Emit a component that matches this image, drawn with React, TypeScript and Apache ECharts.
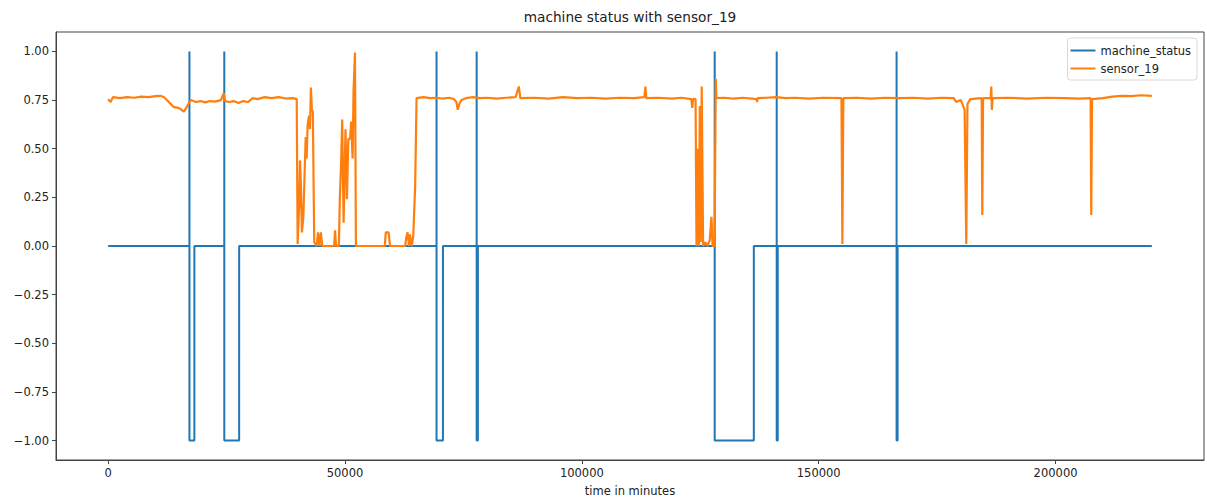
import React, { useEffect, useRef } from "react";
import * as echarts from "echarts";

const chartTitle = "machine status with sensor_19";
const xAxisName = "time in minutes";
const seriesNames = ["machine_status", "sensor_19"];

const xTicks = [0, 50000, 100000, 150000, 200000];
const yTicks = [-1, -0.75, -0.5, -0.25, 0, 0.25, 0.5, 0.75, 1];

// machine status: broken moments (value 1) and end of the following recovering (-1) period
const breakTimes = [17155, 24510, 69318, 77790, 128040, 141131, 166440];
const recoveryEnds = [18200, 27650, 70670, 78050, 136300, 141350, 166650];
const lastTime = 220320;

// sensor_19 readings (time in minutes, value)
const sensorTime = [
  0, 500, 1000, 2500, 4000, 5500, 7000, 8500, 10000, 11000, 11800, 12800, 13800, 14800, 15500, 16000, 16600,
  17155, 17500, 18500, 19500, 20500, 21500, 22500, 23800, 24400, 24700, 25500, 26500, 27500, 28500, 29500,
  30500, 31500, 33000, 34500, 36000, 37500, 39000, 39800,
  40000, 40300, 40500, 40700, 40900, 41200, 41500, 41700, 41900, 42100, 42400, 42600, 42800, 43000, 43200,
  43500, 44000, 44300, 44600, 44900, 45200, 47700, 47900, 48100, 48700, 48900, 49200, 49400, 49700, 50100,
  50400, 50700, 51050, 51300, 51600, 51800, 52100, 52300, 58400, 58600, 59200, 59500, 62700, 62900, 63200,
  63500, 63700, 64100, 64400, 64800, 65100,
  66500, 68000, 69300, 70500, 72000, 73000, 73500, 73800, 74200, 74600, 75500, 77000, 78500, 80000, 82000, 84000, 86000,
  86700, 87000, 90000, 93000, 96000, 99000, 102000, 105000, 108000, 111000, 113200, 113400, 113600, 116000,
  119000, 121000, 123100, 123300, 123500, 124000,
  124200, 124500, 124700, 124900, 125100, 125300, 125600, 126000, 126500, 127000, 127350, 127600, 128000,
  128270, 128400,
  130000, 132000, 134000, 136900, 137000, 137100, 139000, 141000, 143000, 145000, 148000, 151000, 154800,
  155000, 155200, 158000, 161000, 164000, 167000, 170000, 173000, 176000, 178500, 179000, 180000, 180800,
  181150, 181400, 182000, 184400, 184530, 184700, 186300, 186430, 186550, 186700, 190000, 194000, 198000,
  202000, 205000, 207400, 207530, 207700, 210000, 212000, 214000, 216000, 218000, 220320,
];
const sensorValue = [
  0.755, 0.74, 0.765, 0.76, 0.765, 0.762, 0.768, 0.765, 0.77, 0.772, 0.765, 0.74, 0.715, 0.71, 0.7, 0.69, 0.715,
  0.74, 0.75, 0.74, 0.745, 0.738, 0.745, 0.742, 0.75, 0.785, 0.745, 0.74, 0.745, 0.735, 0.745, 0.74,
  0.76, 0.755, 0.765, 0.76, 0.765, 0.758, 0.76, 0.755,
  0.01, 0.2, 0.44, 0.3, 0.07, 0.15, 0.4, 0.56, 0.45, 0.62, 0.67, 0.6, 0.815, 0.7, 0.69,
  0.02, 0.0, 0.07, 0.0, 0.07, 0.0, 0.0, 0.08, 0.0, 0.0, 0.24, 0.45, 0.65, 0.12, 0.6,
  0.24, 0.55, 0.55, 0.64, 0.45, 0.8, 0.995, 0.0, 0.0, 0.07, 0.07, 0.0, 0.0, 0.04, 0.07,
  0.0, 0.06, 0.0, 0.05, 0.3, 0.76,
  0.765, 0.76, 0.762, 0.758, 0.762, 0.755, 0.74, 0.7, 0.735, 0.75, 0.76, 0.765, 0.76, 0.762, 0.758, 0.762, 0.765,
  0.82, 0.76, 0.762, 0.758, 0.765, 0.76, 0.762, 0.758, 0.762, 0.76, 0.765, 0.82, 0.76, 0.762,
  0.758, 0.762, 0.755, 0.71, 0.757, 0.755,
  0.0, 0.5, 0.0, 0.72, 0.02, 0.82, 0.0, 0.02, 0.0, 0.03, 0.15, 0.0, 0.0,
  0.86, 0.76,
  0.762, 0.758, 0.762, 0.755, 0.74, 0.76, 0.762, 0.765, 0.76, 0.762, 0.758, 0.762, 0.76,
  0.01, 0.76, 0.762, 0.758, 0.762, 0.76, 0.762, 0.758, 0.762, 0.76, 0.74, 0.75, 0.7,
  0.01, 0.73, 0.755, 0.76, 0.16, 0.76, 0.76, 0.82, 0.7, 0.76, 0.762, 0.758, 0.762,
  0.76, 0.758, 0.76, 0.16, 0.755, 0.76, 0.768, 0.772, 0.77, 0.775, 0.772,
];

const BLUE = "#1f77b4";
const ORANGE = "#ff7f0e";
const FONT = "DejaVu Sans";

function buildStatus(): [number, number][] {
  const pts: [number, number][] = [[0, 0]];
  breakTimes.forEach((b, i) => {
    pts.push([b - 1, 0], [b, 1], [b + 1, -1], [recoveryEnds[i], -1], [recoveryEnds[i] + 1, 0]);
  });
  pts.push([lastTime, 0]);
  return pts;
}

const fmtY = (v: number) => (v < 0 ? "\u2212" + Math.abs(v).toFixed(2) : v.toFixed(2));

export default function App() {
  const ref = useRef<HTMLDivElement>(null);
  useEffect(() => {
    if (!ref.current) return;
    const chart = echarts.init(ref.current, null, { renderer: "svg" });
    const xMin = -lastTime * 0.05;
    const xMax = lastTime * 1.05;
    chart.setOption({
      animation: false,
      backgroundColor: "#fff",
      graphic: [
        {
          type: "text",
          x: 630,
          y: 17,
          style: {
            text: chartTitle,
            fill: "#222",
            font: `13.7px "${FONT}"`,
            textAlign: "center",
            textVerticalAlign: "middle",
          },
        },
      ],
      grid: {
        left: 56,
        right: 3,
        top: 32,
        bottom: 40,
        show: true,
        borderColor: "#444",
        borderWidth: 1,
        backgroundColor: "transparent",
      },
      legend: {
        orient: "vertical",
        right: 10,
        top: 38,
        data: seriesNames.map((n) => ({ name: n, icon: "rect" })),
        itemWidth: 25,
        itemHeight: 2,
        itemGap: 5,
        padding: [6, 6, 5, 3],
        borderColor: "#d8d8d8",
        borderWidth: 1,
        borderRadius: 3,
        backgroundColor: "rgba(255,255,255,0.8)",
        textStyle: { fontFamily: FONT, fontSize: 11.5, color: "#222", lineHeight: 13 },
      },
      xAxis: {
        type: "value",
        min: xMin,
        max: xMax,
        name: xAxisName,
        nameLocation: "middle",
        nameGap: 25,
        nameTextStyle: { fontFamily: FONT, fontSize: 11.5, color: "#222" },
        splitLine: { show: false },
        axisLine: { show: true, onZero: false, lineStyle: { color: "#444", width: 1 } },
        axisTick: { show: true, length: 4, customValues: xTicks, lineStyle: { color: "#444" } },
        axisLabel: {
          customValues: xTicks,
          margin: 7,
          fontFamily: FONT,
          fontSize: 11.5,
          color: "#222",
          formatter: (v: number) => String(v),
        },
      },
      yAxis: {
        type: "value",
        min: -1.1,
        max: 1.1,
        splitLine: { show: false },
        axisLine: { show: true, onZero: false, lineStyle: { color: "#444", width: 1 } },
        axisTick: { show: true, length: 4, customValues: yTicks, lineStyle: { color: "#444" } },
        axisLabel: {
          customValues: yTicks,
          margin: 7,
          fontFamily: FONT,
          fontSize: 11.5,
          color: "#222",
          formatter: (v: number) => fmtY(v),
        },
      },
      series: [
        {
          name: seriesNames[0],
          type: "line",
          data: buildStatus(),
          showSymbol: false,
          symbol: "none",
          lineStyle: { color: BLUE, width: 2 },
          itemStyle: { color: BLUE },
          z: 2,
        },
        {
          name: seriesNames[1],
          type: "line",
          data: sensorTime.map((t, i) => [t, sensorValue[i]]),
          showSymbol: false,
          symbol: "none",
          lineStyle: { color: ORANGE, width: 2.2 },
          itemStyle: { color: ORANGE },
          z: 3,
        },
      ],
    });
    return () => chart.dispose();
  }, []);
  return (
    <div
      ref={ref}
      style={{ position: "fixed", left: 0, top: 0, width: 1207, height: 502, background: "#fff" }}
    />
  );
}
